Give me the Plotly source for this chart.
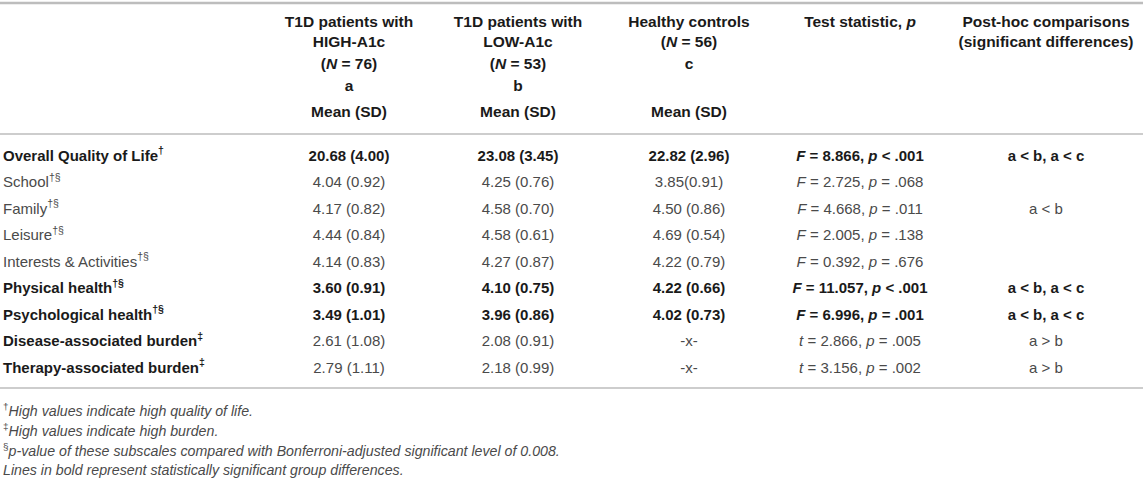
import plotly.graph_objects as go

# Table content
row_labels = ["Overall Quality of Life<sup>†</sup>", "School<sup>†§</sup>", "Family<sup>†§</sup>",
              "Leisure<sup>†§</sup>", "Interests &amp; Activities<sup>†§</sup>",
              "Physical health<sup>†§</sup>", "Psychological health<sup>†§</sup>",
              "Disease-associated burden<sup>‡</sup>", "Therapy-associated burden<sup>‡</sup>"]
label_bold = [True, False, False, False, False, True, True, True, True]
value_bold = [True, False, False, False, False, True, True, False, False]

high_a1c = ["20.68 (4.00)", "4.04 (0.92)", "4.17 (0.82)", "4.44 (0.84)", "4.14 (0.83)",
            "3.60 (0.91)", "3.49 (1.01)", "2.61 (1.08)", "2.79 (1.11)"]
low_a1c = ["23.08 (3.45)", "4.25 (0.76)", "4.58 (0.70)", "4.58 (0.61)", "4.27 (0.87)",
           "4.10 (0.75)", "3.96 (0.86)", "2.08 (0.91)", "2.18 (0.99)"]
controls = ["22.82 (2.96)", "3.85(0.91)", "4.50 (0.86)", "4.69 (0.54)", "4.22 (0.79)",
            "4.22 (0.66)", "4.02 (0.73)", "-x-", "-x-"]
test_stats = ["<i>F</i> = 8.866, <i>p</i> &lt; .001", "<i>F</i> = 2.725, <i>p</i> = .068",
              "<i>F</i> = 4.668, <i>p</i> = .011", "<i>F</i> = 2.005, <i>p</i> = .138",
              "<i>F</i> = 0.392, <i>p</i> = .676", "<i>F</i> = 11.057, <i>p</i> &lt; .001",
              "<i>F</i> = 6.996, <i>p</i> = .001", "<i>t</i> = 2.866, <i>p</i> = .005",
              "<i>t</i> = 3.156, <i>p</i> = .002"]
posthoc = ["a &lt; b, a &lt; c", "", "a &lt; b", "", "", "a &lt; b, a &lt; c",
           "a &lt; b, a &lt; c", "a &gt; b", "a &gt; b"]

header_cols = [
    ["T1D patients with", "HIGH-A1c", "(<i>N</i> = 76)", "a", "Mean (SD)"],
    ["T1D patients with", "LOW-A1c", "(<i>N</i> = 53)", "b", "Mean (SD)"],
    ["Healthy controls", "(<i>N</i> = 56)", "c", "", "Mean (SD)"],
    ["Test statistic, <i>p</i>", "", "", "", ""],
    ["Post-hoc comparisons", "(significant differences)", "", "", ""],
]

footnotes = ["<sup>†</sup><i>High values indicate high quality of life.</i>",
             "<sup>‡</sup><i>High values indicate high burden.</i>",
             "<sup>§</sup><i>p-value of these subscales compared with Bonferroni-adjusted significant level of 0.008.</i>",
             "<i>Lines in bold represent statistically significant group differences.</i>"]

# layout (pixel units of the window, y grows downward)
W, H = 1143, 482
col_x = [3, 349, 518, 689, 860, 1046]
header_y = [23, 43, 65, 87, 113]
row_y = [157 + i * 26.5 for i in range(len(row_labels))]
foot_y = [412, 432, 452, 471]
FONT = "Liberation Sans, Arial, Helvetica, sans-serif"
REG, DARK = "#4a4a4a", "#1a1a1a"

fig = go.Figure()


def add_text(xs, ys, texts, colors, pos="middle center", size=15, bold=None):
    if bold is None:
        bold = [False] * len(texts)
    if isinstance(colors, str):
        colors = [colors] * len(texts)
    keep = [i for i, t in enumerate(texts) if t]
    fig.add_trace(go.Scatter(
        x=[xs[i] for i in keep], y=[ys[i] for i in keep],
        text=[f"<b>{texts[i]}</b>" if bold[i] else texts[i] for i in keep],
        mode="text", textposition=pos, cliponaxis=False,
        textfont=dict(family=FONT, size=size, color=[colors[i] for i in keep]),
        hoverinfo="skip", showlegend=False))


# header
for cx, lines in zip(col_x[1:], header_cols):
    add_text([cx] * len(lines), header_y, lines, DARK, size=15.5, bold=[True] * len(lines))

# body
add_text([col_x[0]] * len(row_labels), row_y, row_labels,
         [DARK if b else REG for b in label_bold], pos="middle right", bold=label_bold)
for cx, col in zip(col_x[1:], [high_a1c, low_a1c, controls, test_stats, posthoc]):
    add_text([cx] * len(col), row_y, col,
             [DARK if b else REG for b in value_bold], bold=value_bold)

# footnotes
add_text([col_x[0]] * len(footnotes), foot_y, footnotes, REG, pos="middle right", size=14.2)

# horizontal rules
for y, w in [(3, 2.5), (134, 1.6), (388, 1.6)]:
    fig.add_shape(type="line", x0=0, x1=W, y0=y, y1=y, xref="x", yref="y",
                  line=dict(color="#bdbdbd", width=w))

fig.update_layout(width=W, height=H, margin=dict(l=0, r=0, t=0, b=0),
                  paper_bgcolor="white", plot_bgcolor="white",
                  xaxis=dict(range=[0, W], visible=False, fixedrange=True),
                  yaxis=dict(range=[H, 0], visible=False, fixedrange=True))

# drop the default page margin so the figure sits at the window corner
fig.write_html("out.html", config={"displayModeBar": False},
               post_script="document.body.style.margin='0';document.body.style.overflow='hidden';")
